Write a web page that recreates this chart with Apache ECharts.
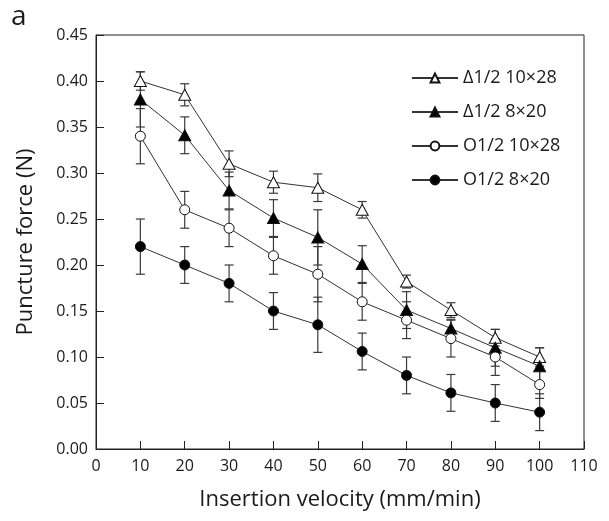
<!DOCTYPE html>
<html>
<head>
<meta charset="utf-8">
<script src="https://cdn.jsdelivr.net/npm/echarts@6/dist/echarts.min.js"></script>
<style>
  html, body { margin: 0; padding: 0; background: #fff; }
  #chart { width: 609px; height: 521px; }
</style>
</head>
<body>
<div id="chart"></div>
<script>
// Insertion velocities (mm/min)
const velocities = [10, 20, 30, 40, 50, 60, 70, 80, 90, 100];

// Mean puncture force (N) and error half-widths for each needle type
const triOpen = [0.40, 0.385, 0.31, 0.29, 0.284, 0.26, 0.182, 0.151, 0.121, 0.10];
const triOpenErr = [0.01, 0.012, 0.014, 0.012, 0.015, 0.009, 0.007, 0.008, 0.009, 0.01];

const triFilled = [0.38, 0.341, 0.281, 0.251, 0.23, 0.201, 0.151, 0.131, 0.11, 0.09];
const triFilledErr = [0.03, 0.02, 0.02, 0.02, 0.03, 0.02, 0.02, 0.01, 0.02, 0.02];

const circOpen = [0.34, 0.26, 0.24, 0.21, 0.19, 0.16, 0.14, 0.12, 0.10, 0.07];
const circOpenErr = [0.03, 0.02, 0.02, 0.02, 0.03, 0.02, 0.02, 0.02, 0.02, 0.015];

const circFilled = [0.22, 0.20, 0.18, 0.15, 0.135, 0.106, 0.08, 0.061, 0.05, 0.04];
const circFilledErr = [0.03, 0.02, 0.02, 0.02, 0.03, 0.02, 0.02, 0.02, 0.02, 0.02];

const seriesNames = ['Δ1/2 10×28', 'Δ1/2 8×20', 'O1/2 10×28', 'O1/2 8×20'];

const FONT = '"Open Sans", sans-serif';
const INK = '#1a1a1a';

function pairs(vals) {
  return velocities.map((v, i) => [v, vals[i]]);
}
function errRows(vals, errs) {
  return velocities.map((v, i) => [v, vals[i] - errs[i], vals[i] + errs[i]]);
}

// Vertical error bar with caps, positioned through the axes
function renderErrorBar(params, api) {
  const lo = api.coord([api.value(0), api.value(1)]);
  const hi = api.coord([api.value(0), api.value(2)]);
  const cap = 4.5;
  const style = { stroke: '#3a3a3a', lineWidth: 1.2 };
  return {
    type: 'group',
    children: [
      { type: 'line', shape: { x1: lo[0], y1: lo[1], x2: hi[0], y2: hi[1] }, style },
      { type: 'line', shape: { x1: lo[0] - cap, y1: lo[1], x2: lo[0] + cap, y2: lo[1] }, style },
      { type: 'line', shape: { x1: hi[0] - cap, y1: hi[1], x2: hi[0] + cap, y2: hi[1] }, style }
    ]
  };
}

function lineSeries(name, vals, symbol, filled, size) {
  return {
    name,
    type: 'line',
    data: pairs(vals),
    symbol,
    symbolSize: size,
    showSymbol: true,
    z: 3,
    lineStyle: { color: '#333', width: 1 },
    itemStyle: { color: filled ? '#000' : '#fff', borderColor: '#111', borderWidth: 1 },
    emphasis: { disabled: true },
    animation: false
  };
}

function errSeries(vals, errs) {
  return {
    type: 'custom',
    data: errRows(vals, errs),
    renderItem: renderErrorBar,
    encode: { x: 0, y: [1, 2] },
    z: 2,
    silent: true,
    animation: false
  };
}

const chart = echarts.init(document.getElementById('chart'), null, { renderer: 'canvas' });

chart.setOption({
  backgroundColor: '#fff',
  animation: false,
  graphic: [{
    type: 'text',
    left: 11,
    top: 3,
    style: { text: 'a', font: '28px ' + FONT, fill: INK }
  }],
  grid: {
    left: 96, right: 25, top: 35, bottom: 72,
    show: true, borderColor: '#222', borderWidth: 1, backgroundColor: 'transparent'
  },
  legend: {
    data: seriesNames,
    orient: 'vertical',
    left: 406,
    top: 64,
    itemWidth: 46,
    itemHeight: 11,
    itemGap: 16,
    textStyle: { fontFamily: FONT, fontSize: 18, color: INK },
    selectedMode: false
  },
  xAxis: {
    type: 'value',
    min: 0, max: 110, interval: 10,
    name: 'Insertion velocity (mm/min)',
    nameLocation: 'middle',
    nameGap: 40,
    nameTextStyle: { fontFamily: FONT, fontSize: 22, color: INK },
    axisLine: { lineStyle: { color: '#222', width: 1 } },
    axisTick: { inside: true, length: 8, lineStyle: { color: '#222' } },
    axisLabel: { fontFamily: FONT, fontSize: 16, color: INK, margin: 9 },
    splitLine: { show: false }
  },
  yAxis: {
    type: 'value',
    min: 0, max: 0.45, interval: 0.05,
    name: 'Puncture force (N)',
    nameLocation: 'middle',
    nameGap: 59,
    nameTextStyle: { fontFamily: FONT, fontSize: 22, color: INK },
    axisLine: { show: true, lineStyle: { color: '#222', width: 1 } },
    axisTick: { show: true, inside: true, length: 8, lineStyle: { color: '#222' } },
    axisLabel: { fontFamily: FONT, fontSize: 16, color: INK, margin: 8, formatter: v => v.toFixed(2) },
    splitLine: { show: false }
  },
  series: [
    errSeries(triOpen, triOpenErr),
    errSeries(triFilled, triFilledErr),
    errSeries(circOpen, circOpenErr),
    errSeries(circFilled, circFilledErr),
    lineSeries(seriesNames[0], triOpen, 'triangle', false, [12, 11]),
    lineSeries(seriesNames[1], triFilled, 'triangle', true, [12, 11]),
    lineSeries(seriesNames[2], circOpen, 'circle', false, 10),
    lineSeries(seriesNames[3], circFilled, 'circle', true, 10)
  ]
});
</script>
</body>
</html>
